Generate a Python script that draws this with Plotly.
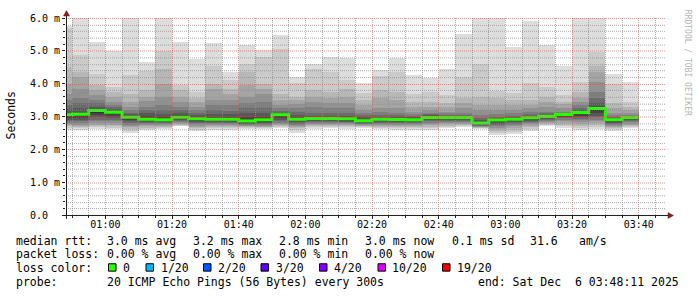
import numpy as np
import pandas as pd
import plotly.graph_objects as go

# ---------------- data ----------------
DAY = "2025-12-06"
END_TIME = "03:48:11"
SPAN_HOURS = 3
STEP_S = 300  # one probe round every 300 s

# end of each 5-minute step
times = ["00:50", "00:55", "01:00", "01:05", "01:10", "01:15", "01:20", "01:25",
         "01:30", "01:35", "01:40", "01:45", "01:50", "01:55", "02:00", "02:05",
         "02:10", "02:15", "02:20", "02:25", "02:30", "02:35", "02:40", "02:45",
         "02:50", "02:55", "03:00", "03:05", "03:10", "03:15", "03:20", "03:25",
         "03:30", "03:35", "03:40"]

# median rtt per step (ms)
median_rtt = [3.05, 3.07, 3.18, 3.13, 2.98, 2.92, 2.90, 2.98, 2.93, 2.92, 2.92, 2.86,
              2.90, 3.05, 2.92, 2.94, 2.94, 2.93, 2.87, 2.92, 2.91, 2.90, 2.97, 2.97,
              2.97, 2.80, 2.89, 2.92, 2.96, 3.00, 3.06, 3.12, 3.24, 2.90, 2.97]

# 20 sorted ping rtts per step (ms)
pings_0050 = [2.60, 2.66, 2.70, 2.73, 2.77, 2.80, 2.85, 2.90, 2.95, 3.00, 3.08, 3.12, 3.22, 3.35, 3.50, 3.70, 4.00, 4.50, 5.70, 5.75]
pings_0055 = [2.60, 2.65, 2.68, 2.72, 2.75, 2.80, 2.85, 2.90, 2.95, 3.03, 3.08, 3.10, 3.25, 3.40, 3.57, 3.85, 4.20, 4.37, 4.87, 6.30]
pings_0100 = [2.63, 2.67, 2.70, 2.75, 2.80, 2.85, 2.90, 2.98, 3.05, 3.12, 3.20, 3.23, 3.30, 3.40, 3.50, 3.65, 3.80, 3.97, 4.30, 5.27]
pings_0105 = [2.63, 2.66, 2.70, 2.75, 2.80, 2.85, 2.90, 2.95, 3.02, 3.08, 3.15, 3.17, 3.22, 3.28, 3.35, 3.45, 3.60, 3.75, 3.90, 5.00]
pings_0110 = [2.50, 2.57, 2.62, 2.68, 2.72, 2.75, 2.80, 2.85, 2.90, 2.95, 3.00, 3.03, 3.07, 3.12, 3.20, 3.30, 3.45, 3.70, 4.25, 6.20]
pings_0115 = [2.58, 2.62, 2.66, 2.70, 2.74, 2.77, 2.80, 2.83, 2.86, 2.90, 2.96, 3.02, 3.10, 3.20, 3.30, 3.47, 3.60, 3.80, 4.40, 4.67]
pings_0120 = [2.62, 2.65, 2.68, 2.71, 2.74, 2.77, 2.80, 2.82, 2.85, 2.88, 2.93, 3.00, 3.08, 3.20, 3.35, 3.60, 4.00, 4.45, 5.00, 6.30]
pings_0125 = [2.70, 2.72, 2.74, 2.77, 2.80, 2.82, 2.85, 2.88, 2.92, 2.95, 3.00, 3.05, 3.10, 3.20, 3.30, 3.45, 3.60, 3.80, 3.97, 5.27]
pings_0130 = [2.55, 2.60, 2.64, 2.68, 2.72, 2.76, 2.80, 2.84, 2.87, 2.90, 2.96, 3.00, 3.05, 3.12, 3.20, 3.30, 3.43, 3.55, 3.75, 4.75]
pings_0135 = [2.60, 2.64, 2.67, 2.70, 2.73, 2.76, 2.79, 2.82, 2.85, 2.88, 2.95, 3.00, 3.08, 3.20, 3.35, 3.50, 3.85, 4.00, 4.55, 5.25]
pings_0140 = [2.60, 2.64, 2.68, 2.71, 2.74, 2.77, 2.80, 2.84, 2.87, 2.90, 2.95, 3.00, 3.08, 3.17, 3.35, 3.50, 3.70, 3.85, 4.10, 4.37]
pings_0145 = [2.63, 2.66, 2.68, 2.70, 2.72, 2.74, 2.76, 2.78, 2.80, 2.83, 2.90, 2.98, 3.10, 3.25, 3.40, 3.60, 3.95, 4.35, 4.60, 5.17]
pings_0150 = [2.62, 2.65, 2.67, 2.69, 2.72, 2.75, 2.78, 2.81, 2.84, 2.87, 2.94, 3.00, 3.10, 3.25, 3.45, 3.70, 3.85, 4.00, 4.80, 5.03]
pings_0155 = [2.65, 2.68, 2.70, 2.73, 2.76, 2.80, 2.85, 2.90, 2.95, 3.00, 3.07, 3.09, 3.12, 3.18, 3.25, 3.35, 3.50, 3.70, 5.07, 5.47]
pings_0200 = [2.50, 2.58, 2.64, 2.68, 2.72, 2.75, 2.78, 2.82, 2.85, 2.88, 2.95, 2.98, 3.05, 3.15, 3.25, 3.37, 3.50, 3.60, 4.03, 4.20]
pings_0205 = [2.62, 2.68, 2.72, 2.75, 2.78, 2.80, 2.83, 2.85, 2.88, 2.91, 2.96, 2.99, 3.03, 3.10, 3.30, 3.45, 3.60, 3.80, 4.45, 4.60]
pings_0210 = [2.65, 2.69, 2.72, 2.75, 2.78, 2.80, 2.83, 2.85, 2.88, 2.91, 2.96, 2.99, 3.03, 3.10, 3.25, 3.40, 3.55, 3.75, 4.35, 4.80]
pings_0215 = [2.63, 2.67, 2.70, 2.73, 2.76, 2.79, 2.82, 2.84, 2.87, 2.90, 2.95, 2.98, 3.02, 3.10, 3.25, 3.40, 3.60, 3.85, 4.10, 4.78]
pings_0220 = [2.66, 2.68, 2.70, 2.72, 2.74, 2.76, 2.78, 2.80, 2.82, 2.85, 2.90, 2.93, 2.97, 3.05, 3.10, 3.20, 3.35, 3.50, 3.73, 4.03]
pings_0225 = [2.62, 2.65, 2.68, 2.72, 2.75, 2.78, 2.81, 2.84, 2.87, 2.90, 2.94, 2.96, 3.00, 3.05, 3.15, 3.27, 3.55, 3.80, 4.23, 4.43]
pings_0230 = [2.60, 2.64, 2.67, 2.70, 2.73, 2.76, 2.79, 2.82, 2.85, 2.88, 2.93, 2.96, 3.00, 3.05, 3.12, 3.25, 3.50, 3.75, 4.35, 4.78]
pings_0235 = [2.60, 2.64, 2.67, 2.70, 2.73, 2.76, 2.79, 2.82, 2.85, 2.88, 2.92, 2.94, 2.97, 3.02, 3.08, 3.15, 3.30, 3.45, 3.70, 4.25]
pings_0240 = [2.60, 2.65, 2.69, 2.73, 2.77, 2.81, 2.85, 2.88, 2.91, 2.94, 2.99, 3.01, 3.04, 3.08, 3.12, 3.20, 3.30, 3.43, 3.75, 4.17]
pings_0245 = [2.64, 2.68, 2.72, 2.76, 2.79, 2.82, 2.85, 2.88, 2.91, 2.94, 2.99, 3.00, 3.03, 3.06, 3.10, 3.15, 3.30, 3.40, 3.65, 4.45]
pings_0250 = [2.68, 2.71, 2.74, 2.77, 2.80, 2.83, 2.86, 2.88, 2.91, 2.94, 2.99, 3.00, 3.03, 3.06, 3.12, 3.25, 3.40, 3.55, 4.20, 5.52]
pings_0255 = [2.63, 2.65, 2.66, 2.67, 2.68, 2.70, 2.72, 2.74, 2.76, 2.78, 2.82, 2.85, 2.90, 2.95, 3.05, 3.20, 3.35, 3.60, 4.60, 6.20]
pings_0300 = [2.45, 2.51, 2.57, 2.62, 2.66, 2.70, 2.74, 2.78, 2.82, 2.86, 2.90, 2.92, 2.95, 3.00, 3.08, 3.20, 3.35, 3.55, 3.77, 6.20]
pings_0305 = [2.47, 2.54, 2.60, 2.65, 2.70, 2.74, 2.78, 2.82, 2.86, 2.89, 2.93, 2.95, 2.98, 3.03, 3.10, 3.20, 3.35, 3.50, 3.73, 5.13]
pings_0310 = [2.56, 2.62, 2.67, 2.72, 2.76, 2.80, 2.84, 2.87, 2.90, 2.93, 2.98, 3.00, 3.03, 3.08, 3.15, 3.25, 3.35, 3.50, 4.03, 5.92]
pings_0315 = [2.70, 2.73, 2.76, 2.79, 2.82, 2.85, 2.88, 2.91, 2.94, 2.97, 3.01, 3.03, 3.06, 3.10, 3.15, 3.30, 3.45, 3.60, 3.90, 5.17]
pings_0320 = [2.65, 2.70, 2.75, 2.80, 2.85, 2.90, 2.94, 2.97, 3.00, 3.03, 3.07, 3.08, 3.10, 3.12, 3.15, 3.25, 3.37, 3.45, 3.65, 4.53]
pings_0325 = [2.60, 2.66, 2.72, 2.77, 2.83, 2.88, 2.93, 2.98, 3.03, 3.08, 3.14, 3.16, 3.20, 3.25, 3.35, 3.45, 3.55, 3.75, 4.05, 6.20]
pings_0330 = [2.63, 2.69, 2.75, 2.80, 2.85, 2.90, 2.97, 3.03, 3.10, 3.18, 3.26, 3.30, 3.40, 3.55, 3.75, 4.05, 4.35, 4.55, 4.95, 6.20]
pings_0335 = [2.57, 2.61, 2.65, 2.68, 2.72, 2.75, 2.78, 2.81, 2.84, 2.87, 2.91, 2.93, 2.96, 3.00, 3.05, 3.12, 3.25, 3.40, 4.00, 4.30]
pings_0340 = [2.65, 2.69, 2.72, 2.75, 2.78, 2.82, 2.85, 2.88, 2.91, 2.94, 2.98, 2.99, 3.00, 3.02, 3.05, 3.10, 3.20, 3.30, 3.45, 4.05]

y_ticks = [0, 1, 2, 3, 4, 5, 6]
y_ticktext = ["0.0\u00a0\u00a0", "1.0 m", "2.0 m", "3.0 m", "4.0 m", "5.0 m", "6.0 m"]

loss_labels = ["0", "1/20", "2/20", "3/20", "4/20", "10/20", "19/20"]
loss_colors = ["#26ff00", "#00b8ff", "#0059ff", "#5e00ff", "#7e00ff", "#dd00ff", "#ff0000"]

stats_rtt = ["3.0 ms avg", "3.2 ms max", "2.8 ms min", "3.0 ms now", "0.1 ms sd", "31.6", "am/s"]
stats_loss = ["0.00 % avg", "0.00 % max", "0.00 % min", "0.00 % now"]
probe_text = "20 ICMP Echo Pings (56 Bytes) every 300s"
end_text = "end: Sat Dec\u00a0 6 03:48:11 2025"

samples = [pings_0050, pings_0055, pings_0100, pings_0105, pings_0110, pings_0115,
           pings_0120, pings_0125, pings_0130, pings_0135, pings_0140, pings_0145,
           pings_0150, pings_0155, pings_0200, pings_0205, pings_0210, pings_0215,
           pings_0220, pings_0225, pings_0230, pings_0235, pings_0240, pings_0245,
           pings_0250, pings_0255, pings_0300, pings_0305, pings_0310, pings_0315,
           pings_0320, pings_0325, pings_0330, pings_0335, pings_0340]

# ---------------- geometry / style ----------------
W, H = 697, 297
ML, MT, PW, PH = 66, 15, 600, 200
MR, MB = W - ML - PW, H - MT - PH
FONT = "DejaVu Sans Mono"

def px2x(px):
    return (px - ML) / PW

def py2y(py):
    return (MT + PH - py) / PH

P = np.sort(np.array(samples, dtype=float), axis=1)
ends = pd.to_datetime([f"{DAY} {t}" for t in times])
step = pd.Timedelta(seconds=STEP_S)
starts = ends - step
centers = starts + step / 2
t_end = pd.Timestamp(f"{DAY} {END_TIME}")
t_start = t_end - pd.Timedelta(hours=SPAN_HOURS)

fig = go.Figure()

# smoke: pairs of (k-th fastest, k-th slowest) pings, outermost lightest
n = P.shape[1]
half = n / 2
for k in range(1, n // 2 + 1):
    c = int(190 / half * (half - k)) + 50
    col = "#%02x%02x%02x" % (c, c, c)
    lo = P[:, k - 1]
    hi = P[:, n - k]
    fig.add_trace(go.Bar(
        x=centers, y=hi - lo, base=lo, width=STEP_S * 1000,
        marker=dict(color=col, line=dict(width=0)),
        hoverinfo="skip", showlegend=False))

# median line, coloured by loss (all 0 loss)
fig.add_trace(go.Scatter(
    x=list(starts) + [ends[-1]], y=list(median_rtt) + [median_rtt[-1]],
    mode="lines", line=dict(color=loss_colors[0], width=3, shape="hv"),
    hoverinfo="skip", showlegend=False))

shapes = []
minor_col = "rgba(143,143,143,0.75)"
major_col = "rgba(222,79,79,0.6)"

# vertical grid every 5 min, major every 20 min
t = t_start.ceil("5min")
while t <= t_end:
    pxl = ML + (t - t_start) / (t_end - t_start) * PW
    xp = px2x(np.floor(pxl) + 0.5)
    major = (t.minute % 20 == 0)
    shapes.append(dict(type="line", xref="paper", yref="paper", x0=xp, x1=xp, y0=0, y1=1,
                       line=dict(color=major_col if major else minor_col, width=1, dash="1px,1px"),
                       layer="above"))
    t += pd.Timedelta(minutes=5)

# horizontal grid every 0.2 ms, major every 1 ms
for i in range(1, 31):
    v = i * 0.2
    pyl = MT + PH - v / 6.0 * PH
    yp = py2y(np.round(pyl) + 0.5)
    major = (i % 5 == 0)
    shapes.append(dict(type="line", xref="paper", yref="paper", x0=0, x1=1, y0=yp, y1=yp,
                       line=dict(color=major_col if major else minor_col, width=1, dash="1px,1px"),
                       layer="above"))

axis_col = "#1f1f1f"
arrow_col = "#801f1f"
# axes lines
shapes.append(dict(type="line", xref="paper", yref="paper", x0=px2x(62), x1=px2x(669),
                   y0=py2y(215.5), y1=py2y(215.5), line=dict(color=axis_col, width=1), layer="above"))
shapes.append(dict(type="line", xref="paper", yref="paper", x0=px2x(66.5), x1=px2x(66.5),
                   y0=py2y(219), y1=py2y(12), line=dict(color=axis_col, width=1), layer="above"))
# arrows
def tri(pts):
    return "M " + " L ".join(f"{px2x(a)} {py2y(b)}" for a, b in pts) + " Z"
shapes.append(dict(type="path", xref="paper", yref="paper",
                   path=tri([(668, 212.5), (673.5, 215.5), (668, 218.5)]),
                   fillcolor=arrow_col, line=dict(color=arrow_col, width=0.5), layer="above"))
shapes.append(dict(type="path", xref="paper", yref="paper",
                   path=tri([(63.5, 13), (66.5, 7.5), (69.5, 13)]),
                   fillcolor=arrow_col, line=dict(color=arrow_col, width=0.5), layer="above"))

annotations = []
def txt(s, px, py, size=11.5, color="#000000", **kw):
    annotations.append(dict(text=s, x=px2x(px), y=py2y(py), xref="paper", yref="paper",
                            xanchor=kw.pop("xanchor", "left"), yanchor="middle", showarrow=False,
                            borderpad=0, borderwidth=0,
                            font=dict(family=FONT, size=size, color=color), **kw))

row_y = [241, 255, 268.5, 283]
col_x = [107.3, 193.3, 279.3, 365.0, 451.7, 530.0, 579.3]

txt("median rtt:", 16, row_y[0])
for s, x in zip(stats_rtt, col_x):
    txt(s, x, row_y[0])
txt("packet loss:", 16, row_y[1])
for s, x in zip(stats_loss, col_x):
    txt(s, x, row_y[1])
txt("loss color:", 16, row_y[2])
sq_x = [108.5, 146.0, 203.5, 261.0, 319.5, 378.0, 442.5]
lab_x = [123.3, 160.7, 218.0, 276.0, 334.3, 392.3, 456.7]
for lab, col, sx, lx in zip(loss_labels, loss_colors, sq_x, lab_x):
    shapes.append(dict(type="rect", xref="paper", yref="paper",
                       x0=px2x(sx), x1=px2x(sx + 7.5), y0=py2y(264.5), y1=py2y(272),
                       fillcolor=col, line=dict(color="#000000", width=1), layer="above"))
    txt(lab, lx, row_y[2])
txt("probe:", 16, row_y[3])
txt(probe_text, 107.3, row_y[3])
txt(end_text, 478.3, row_y[3])

txt("Seconds", 11, 114, textangle=-90, xanchor="center")
txt("RRDTOOL / TOBI OETIKER", 687.5, 60, size=8, color="#b4b4b4", textangle=90, xanchor="center")

fig.update_layout(
    width=W, height=H, margin=dict(l=ML, r=MR, t=MT, b=MB, pad=0),
    paper_bgcolor="#ffffff", plot_bgcolor="#ffffff",
    barmode="overlay", bargap=0, showlegend=False,
    shapes=shapes, annotations=annotations,
    font=dict(family=FONT, size=10, color="#000000"),
    xaxis=dict(type="date", range=[t_start, t_end], showgrid=False, zeroline=False,
               showline=False, tickformat="%H:%M", dtick=20 * 60 * 1000,
               tick0=f"{DAY} 00:00:00", ticks="outside", ticklen=3, tickcolor=axis_col,
               ticklabelstandoff=-3,
               tickfont=dict(family=FONT, size=10, color="#000000"),
               minor=dict(dtick=5 * 60 * 1000, ticks="outside", ticklen=2, tickcolor=axis_col,
                          showgrid=False)),
    yaxis=dict(range=[0, 6], showgrid=False, zeroline=False, showline=False,
               tickvals=y_ticks, ticktext=y_ticktext, ticks="outside", ticklen=3,
               tickcolor=axis_col, tickfont=dict(family=FONT, size=10, color="#000000"),
               minor=dict(dtick=0.2, ticks="outside", ticklen=2, tickcolor=axis_col,
                          showgrid=False)),
)

fig.write_html("out.html")
